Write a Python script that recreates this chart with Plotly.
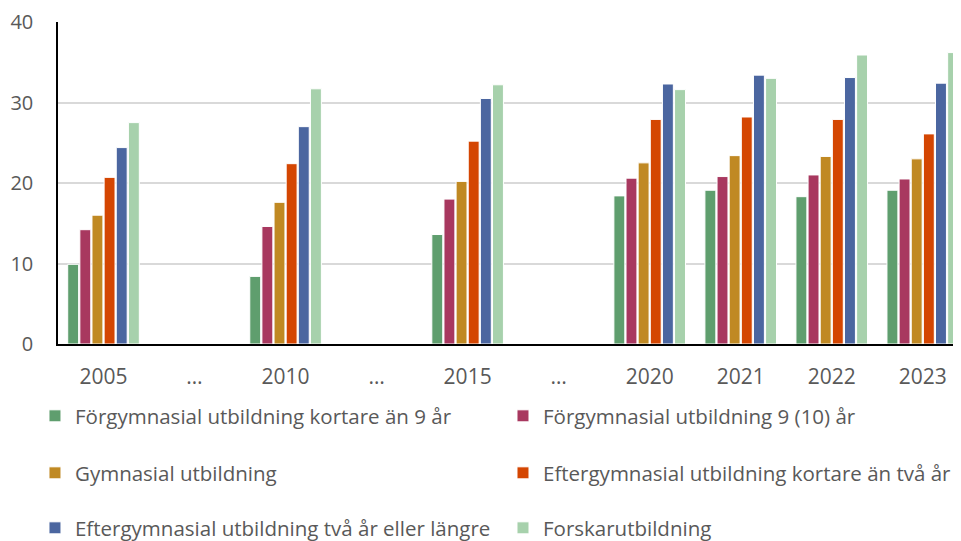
import plotly.graph_objects as go

periods = ["2005", "…", "2010", "…", "2015", "…", "2020", "2021", "2022", "2023"]

series_names = [
    "Förgymnasial utbildning kortare än 9 år",
    "Förgymnasial utbildning 9 (10) år",
    "Gymnasial utbildning",
    "Eftergymnasial utbildning kortare än två år",
    "Eftergymnasial utbildning två år eller längre",
    "Forskarutbildning",
]

forgym_kort = [9.9, None, 8.4, None, 13.6, None, 18.4, 19.1, 18.3, 19.1]
forgym_9 = [14.2, None, 14.6, None, 18.0, None, 20.6, 20.8, 21.0, 20.5]
gymnasial = [16.0, None, 17.6, None, 20.2, None, 22.5, 23.4, 23.3, 23.0]
eftergym_kort = [20.7, None, 22.4, None, 25.2, None, 27.9, 28.2, 27.9, 26.1]
eftergym_lang = [24.4, None, 27.0, None, 30.5, None, 32.3, 33.4, 33.1, 32.4]
forskar = [27.5, None, 31.7, None, 32.2, None, 31.6, 33.0, 35.9, 36.2]

colors = ["#5f9e6e", "#a8385f", "#c08923", "#d44602", "#4b66a0", "#a7d1ac"]

all_values = [forgym_kort, forgym_9, gymnasial, eftergym_kort, eftergym_lang, forskar]

x_pos = list(range(len(periods)))

font_family = "Open Sans, Liberation Sans, sans-serif"
grey = "#595959"

# one legend per entry so the 2-column grid below the plot can be placed freely
leg_x = [-0.0255, 0.4928]           # left / right column (paper)
leg_y = [-0.2236, -0.4006, -0.5714]  # three rows (paper)

fig = go.Figure()
legend_layout = {}
for i, (name, vals, col) in enumerate(zip(series_names, all_values, colors)):
    leg_id = "legend" if i == 0 else f"legend{i + 1}"
    fig.add_trace(go.Bar(
        x=x_pos, y=vals, name=name,
        marker=dict(color=col, line=dict(color="white", width=1)),
        legend=leg_id, showlegend=True,
    ))
    legend_layout[leg_id] = dict(
        orientation="h", xanchor="left", yanchor="middle",
        x=leg_x[i % 2], y=leg_y[i // 2],
        font=dict(family=font_family, size=20.5, color=grey),
        bgcolor="rgba(0,0,0,0)",
    )

# page body has an 8px margin, so the figure is a bit smaller than the window
fig.update_layout(
    width=953, height=533,
    margin=dict(l=50, r=0, t=14, b=197, autoexpand=False),
    plot_bgcolor="white", paper_bgcolor="white",
    font=dict(family=font_family, size=21, color=grey),
    barmode="group", bargap=0.2, bargroupgap=0.1,
    showlegend=True,
    **legend_layout,
)
fig.update_xaxes(
    tickmode="array", tickvals=x_pos, ticktext=periods,
    range=[-0.5, 9.42],
    showline=True, linecolor="black", linewidth=2,
    showgrid=False, zeroline=False, ticks="",
    ticklabelstandoff=13, automargin=False,
    tickfont=dict(family=font_family, size=21, color=grey),
)
fig.update_yaxes(
    range=[0, 40], tickvals=[0, 10, 20, 30, 40],
    showline=True, linecolor="black", linewidth=1.5,
    showgrid=True, gridcolor="#d9d9d9", gridwidth=1.5,
    zeroline=False, ticks="",
    ticklabelstandoff=19, automargin=False,
    tickfont=dict(family=font_family, size=20, color=grey),
)

fig.write_html("out.html")
